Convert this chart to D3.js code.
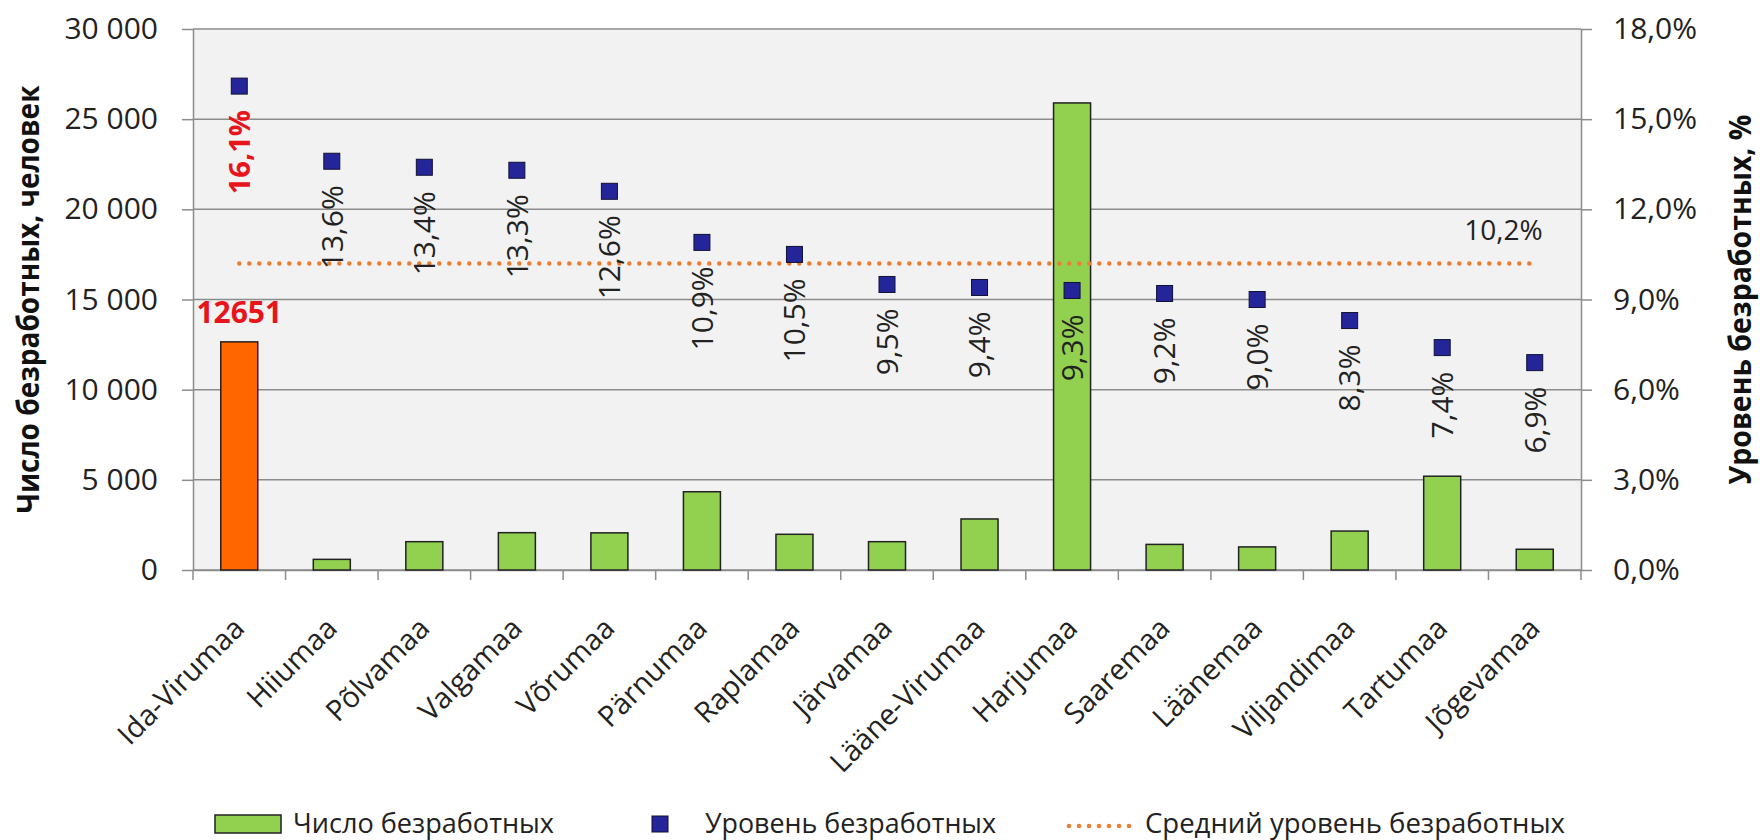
<!DOCTYPE html>
<html>
<head>
<meta charset="utf-8">
<script src="https://cdn.jsdelivr.net/npm/d3@7"></script>
<style>
  body { margin: 0; background: #fff; }
  text { font-family: 'Open Sans', sans-serif; fill: #222; }
</style>
</head>
<body>
<svg></svg>
<script>
const regions = ['Ida-Virumaa', 'Hiiumaa', 'Põlvamaa', 'Valgamaa', 'Võrumaa', 'Pärnumaa', 'Raplamaa',
  'Järvamaa', 'Lääne-Virumaa', 'Harjumaa', 'Saaremaa', 'Läänemaa', 'Viljandimaa', 'Tartumaa', 'Jõgevamaa'];
const unemployed = [12651, 590, 1570, 2070, 2060, 4340, 1980, 1570, 2830, 25900, 1420, 1280, 2160, 5200, 1150];
const rates = [16.1, 13.6, 13.4, 13.3, 12.6, 10.9, 10.5, 9.5, 9.4, 9.3, 9.2, 9.0, 8.3, 7.4, 6.9];
const avgRate = 10.2;
const countTicks = [0, 5000, 10000, 15000, 20000, 25000, 30000];
const rateTicks = [0, 3, 6, 9, 12, 15, 18];
const highlight = 'Ida-Virumaa';

const width = 1760;
const height = 840;
const plot = { left: 193, right: 1581, top: 29, bottom: 570 };
const gridColor = '#8c8c8c';

const locale = d3.formatLocale({ decimal: ',', thousands: '\u00a0', grouping: [3], currency: ['', ''] });
const fmtCount = locale.format(',d');
const fmtRate = (v) => locale.format('.1f')(v) + '%';

const svg = d3.select('svg').attr('width', width).attr('height', height);

const x = d3.scaleBand().domain(regions).range([plot.left, plot.right]);
const yCount = d3.scaleLinear().domain([0, 30000]).range([plot.bottom, plot.top]);
const yRate = d3.scaleLinear().domain([0, 18]).range([plot.bottom, plot.top]);
const bw = x.bandwidth();
const cx = (d) => x(d) + bw / 2;

// plot background
svg.append('rect')
  .attr('x', plot.left).attr('y', plot.top)
  .attr('width', plot.right - plot.left).attr('height', plot.bottom - plot.top)
  .attr('fill', '#f2f2f2');

// gridlines
svg.append('g').selectAll('line').data(countTicks).enter().append('line')
  .attr('x1', plot.left).attr('x2', plot.right)
  .attr('y1', (d) => yCount(d)).attr('y2', (d) => yCount(d))
  .attr('stroke', gridColor).attr('stroke-width', 1.5);

// left axis
const leftAxis = svg.append('g')
  .attr('transform', 'translate(' + plot.left + ',0)')
  .call(d3.axisLeft(yCount).tickValues(countTicks).tickSize(11).tickSizeOuter(0).tickPadding(24).tickFormat(fmtCount));
leftAxis.selectAll('text').style('font-size', '30px').attr('fill', '#222');

// right axis
const rightAxis = svg.append('g')
  .attr('transform', 'translate(' + plot.right + ',0)')
  .call(d3.axisRight(yRate).tickValues(rateTicks).tickSize(11).tickSizeOuter(0).tickPadding(21).tickFormat(fmtRate));
rightAxis.selectAll('text').style('font-size', '30px').attr('fill', '#222');

// bottom axis
const bottomAxis = svg.append('g')
  .attr('transform', 'translate(0,' + plot.bottom + ')')
  .call(d3.axisBottom(x).tickSize(0).tickSizeOuter(0));
bottomAxis.selectAll('text')
  .attr('y', 0).attr('dy', 0)
  .attr('text-anchor', 'end')
  .attr('transform', 'translate(7,60) rotate(-45)')
  .style('font-size', '29px').attr('fill', '#222');
const bounds = regions.map((d) => x(d)).concat([x.range()[1]]);
bottomAxis.selectAll('.bound').data(bounds).enter().append('line')
  .attr('class', 'bound')
  .attr('x1', (d) => d).attr('x2', (d) => d)
  .attr('y1', 0).attr('y2', 10)
  .attr('stroke', gridColor).attr('stroke-width', 1.5);

[leftAxis, rightAxis, bottomAxis].forEach((g) => {
  g.selectAll('.domain').attr('stroke', gridColor).attr('stroke-width', 1.5);
  g.selectAll('.tick line').attr('stroke', gridColor).attr('stroke-width', 1.5);
  g.attr('font-family', null);
});

// bars
svg.append('g').selectAll('rect').data(regions).enter().append('rect')
  .attr('x', (d) => cx(d) - bw * 0.2)
  .attr('width', bw * 0.4)
  .attr('y', (d, i) => yCount(unemployed[i]))
  .attr('height', (d, i) => plot.bottom - yCount(unemployed[i]))
  .attr('fill', (d) => (d === highlight ? '#ff6600' : '#92d050'))
  .attr('stroke', '#222').attr('stroke-width', 1.5);

// highlighted count label
const hi = regions.indexOf(highlight);
svg.append('text')
  .attr('x', cx(highlight)).attr('y', yCount(unemployed[hi]) - 19)
  .attr('text-anchor', 'middle')
  .style('font-size', '30px').style('font-weight', 'bold')
  .style('fill', '#e8141c')
  .text(unemployed[hi]);

// average line
svg.append('line')
  .attr('x1', cx(regions[0])).attr('x2', cx(regions[regions.length - 1]))
  .attr('y1', yRate(avgRate)).attr('y2', yRate(avgRate))
  .attr('stroke', '#ed7d31').attr('stroke-width', 4.5)
  .attr('stroke-dasharray', '0 10').attr('stroke-linecap', 'round');
svg.append('text')
  .attr('x', cx(regions[regions.length - 1]) + 8).attr('y', yRate(avgRate) - 23)
  .attr('text-anchor', 'end')
  .style('font-size', '28px')
  .text(fmtRate(avgRate));

// rate markers
svg.append('g').selectAll('rect').data(regions).enter().append('rect')
  .attr('x', (d) => cx(d) - 8)
  .attr('y', (d, i) => yRate(rates[i]) - 8)
  .attr('width', 16).attr('height', 16)
  .attr('fill', '#25259a').attr('stroke', '#111133').attr('stroke-width', 1);

// rate labels
svg.append('g').selectAll('text').data(regions).enter().append('text')
  .attr('transform', (d, i) => 'translate(' + cx(d) + ',' + (yRate(rates[i]) + 24) + ') rotate(-90)')
  .attr('text-anchor', 'end')
  .attr('dy', '0.36em')
  .style('font-size', (d) => (d === highlight ? '29px' : '30px'))
  .style('font-weight', (d) => (d === highlight ? 'bold' : 'normal'))
  .style('fill', (d) => (d === highlight ? '#e8141c' : '#222'))
  .text((d, i) => fmtRate(rates[i]));

// axis titles
svg.append('text')
  .attr('transform', 'translate(39,' + (plot.top + plot.bottom) / 2 + ') rotate(-90)')
  .attr('text-anchor', 'middle')
  .attr('textLength', 428).attr('lengthAdjust', 'spacingAndGlyphs')
  .style('font-size', '30px').style('font-weight', 'bold').style('fill', '#111')
  .text('Число безработных, человек');
svg.append('text')
  .attr('transform', 'translate(1751,' + (plot.top + plot.bottom) / 2 + ') rotate(-90)')
  .attr('text-anchor', 'middle')
  .attr('textLength', 370).attr('lengthAdjust', 'spacingAndGlyphs')
  .style('font-size', '30px').style('font-weight', 'bold').style('fill', '#111')
  .text('Уровень безработных, %');

// legend
const legend = svg.append('g');
legend.append('rect')
  .attr('x', 215).attr('y', 815).attr('width', 66).attr('height', 18)
  .attr('fill', '#92d050').attr('stroke', '#222').attr('stroke-width', 1.5);
legend.append('text').attr('x', 293).attr('y', 833)
  .attr('textLength', 261).attr('lengthAdjust', 'spacingAndGlyphs')
  .style('font-size', '28px').text('Число безработных');
legend.append('rect')
  .attr('x', 652).attr('y', 816).attr('width', 16).attr('height', 16)
  .attr('fill', '#25259a').attr('stroke', '#111133').attr('stroke-width', 1);
legend.append('text').attr('x', 705).attr('y', 833)
  .attr('textLength', 291).attr('lengthAdjust', 'spacingAndGlyphs')
  .style('font-size', '28px').text('Уровень безработных');
legend.append('line')
  .attr('x1', 1069).attr('x2', 1133).attr('y1', 826).attr('y2', 826)
  .attr('stroke', '#ed7d31').attr('stroke-width', 4.5)
  .attr('stroke-dasharray', '0 10').attr('stroke-linecap', 'round');
legend.append('text').attr('x', 1145).attr('y', 833)
  .attr('textLength', 420).attr('lengthAdjust', 'spacingAndGlyphs')
  .style('font-size', '28px').text('Средний уровень безработных');
</script>
</body>
</html>
